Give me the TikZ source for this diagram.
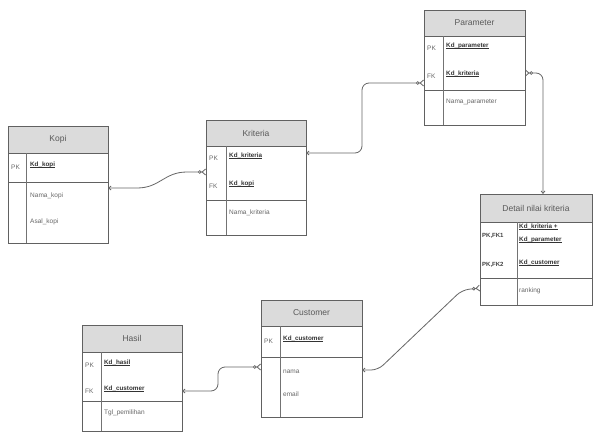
\documentclass[tikz,border=0pt]{standalone}
\usepackage{fontspec}
\setmainfont{Liberation Sans}
\usetikzlibrary{arrows.meta,calc}
\newcommand{\keyul}[1]{\underline{\smash{#1}}}
\begin{document}
\begin{tikzpicture}[x=1pt,y=-1pt,
 box/.style={draw=black!62, line width=0.6pt, anchor=north west, inner sep=0pt, outer sep=0pt},
 hdr/.style={box, fill=black!14, font=\fontsize{8.5}{10}\selectfont, text=black!65},
 row/.style={box, fill=white},
 divl/.style={draw=black!55, line width=0.5pt},
 ktext/.style={anchor=west, inner sep=0pt, font=\fontsize{6.3}{7.4}\selectfont\bfseries, text=black!80},
 atext/.style={anchor=west, inner sep=0pt, font=\fontsize{6.5}{7.6}\selectfont, text=black!60},
 ptext/.style={anchor=west, inner sep=0pt, font=\fontsize{6.5}{7.6}\selectfont, text=black!60},
 pbtext/.style={anchor=west, inner sep=0pt, font=\fontsize{6}{7}\selectfont\bfseries, text=black!75},
 conn/.style={draw=black!60, line width=0.8pt, rounded corners=7pt},
 many/.tip={Circle[open,length=3.5pt,fill=white] Straight Barb[reversed,length=3.5pt,width=6pt]},
 one/.tip={Straight Barb[length=2.5pt,width=4pt]}
]
\useasboundingbox[fill=white] (0,0) rectangle (597,439);

% ---- Kopi
\node[hdr, minimum width=100pt, minimum height=27pt] (kopiH) at (8,126) {Kopi};
\node[row, minimum width=100pt, minimum height=29pt] (kopiK) at (8,153) {};
\node[row, minimum width=100pt, minimum height=61pt] (kopiA) at (8,182) {};
\draw[divl] ($(kopiK.north west)+(18,0)$) -- ($(kopiA.south west)+(18,0)$);
\node[ptext] (kopiP1) at (11,167) {PK};
\node[ktext] (kopiT1) at (30,167) {\keyul{Kd\_kopi}};
\node[atext] (kopiT2) at (30,196) {Nama\_kopi};
\node[atext] (kopiT3) at (30,222) {Asal\_kopi};

% ---- Kriteria
\node[hdr, minimum width=100pt, minimum height=26pt] (kritH) at (206,120) {Kriteria};
\node[row, minimum width=100pt, minimum height=54pt] (kritK) at (206,146) {};
\node[row, minimum width=100pt, minimum height=35pt] (kritA) at (206,200) {};
\draw[divl] ($(kritK.north west)+(20,0)$) -- ($(kritA.south west)+(20,0)$);
\node[ptext] (kritP1) at (209,158) {PK};
\node[ktext] (kritT1) at (229,158) {\keyul{Kd\_kriteria}};
\node[ptext] (kritP2) at (209,186) {FK};
\node[ktext] (kritT2) at (229,186) {\keyul{Kd\_kopi}};
\node[atext] (kritT3) at (229,213) {Nama\_kriteria};

% ---- Parameter
\node[hdr, minimum width=101pt, minimum height=26pt] (parH) at (424,10) {Parameter};
\node[row, minimum width=101pt, minimum height=54pt] (parK) at (424,36) {};
\node[row, minimum width=101pt, minimum height=35pt] (parA) at (424,90) {};
\draw[divl] ($(parK.north west)+(19,0)$) -- ($(parA.south west)+(19,0)$);
\node[ptext] (parP1) at (427,48) {PK};
\node[ktext] (parT1) at (446,48) {\keyul{Kd\_parameter}};
\node[ptext] (parP2) at (427,76) {FK};
\node[ktext] (parT2) at (446,76) {\keyul{Kd\_kriteria}};
\node[atext] (parT3) at (446,102) {Nama\_parameter};

% ---- Detail nilai kriteria
\node[hdr, minimum width=112pt, minimum height=28pt] (detH) at (480,194) {Detail nilai kriteria};
\node[row, minimum width=112pt, minimum height=56pt] (detK) at (480,222) {};
\node[row, minimum width=112pt, minimum height=27pt] (detA) at (480,278) {};
\draw[divl] ($(detK.north west)+(37,0)$) -- ($(detA.south west)+(37,0)$);
\node[pbtext] (detP1) at (482,236) {PK,FK1};
\node[ktext] (detT1) at (519,229) {\keyul{Kd\_kriteria +}};
\node[ktext] (detT2) at (519,242) {\keyul{Kd\_parameter}};
\node[pbtext] (detP2) at (482,265) {PK,FK2};
\node[ktext] (detT3) at (519,265) {\keyul{Kd\_customer}};
\node[atext] (detT4) at (519,291) {ranking};

% ---- Customer
\node[hdr, minimum width=101pt, minimum height=26pt] (cusH) at (261,300) {Customer};
\node[row, minimum width=101pt, minimum height=31pt] (cusK) at (261,326) {};
\node[row, minimum width=101pt, minimum height=60pt] (cusA) at (261,357) {};
\draw[divl] ($(cusK.north west)+(19,0)$) -- ($(cusA.south west)+(19,0)$);
\node[ptext] (cusP1) at (264,341) {PK};
\node[ktext] (cusT1) at (283,341) {\keyul{Kd\_customer}};
\node[atext] (cusT2) at (283,372) {nama};
\node[atext] (cusT3) at (283,394) {email};

% ---- Hasil
\node[hdr, minimum width=100pt, minimum height=27pt] (hasH) at (82,325) {Hasil};
\node[row, minimum width=100pt, minimum height=49pt] (hasK) at (82,352) {};
\node[row, minimum width=100pt, minimum height=30pt] (hasA) at (82,401) {};
\draw[divl] ($(hasK.north west)+(19,0)$) -- ($(hasA.south west)+(19,0)$);
\node[ptext] (hasP1) at (85,365) {PK};
\node[ktext] (hasT1) at (104,365) {\keyul{Kd\_hasil}};
\node[ptext] (hasP2) at (85,391) {FK};
\node[ktext] (hasT2) at (104,391) {\keyul{Kd\_customer}};
\node[atext] (hasT3) at (104,413) {Tgl\_pemilihan};

% ---- Connectors
\draw[conn, {one}-{many}] ($(kopiA.north west)+(100,6)$) -- ++(22,0)
  .. controls ++(30,0) and ++(-30,0) .. ($(kritK.north west)+(-12,26)$) -- ($(kritK.north west)+(0,26)$);
\draw[conn, {one}-{many}] ($(kritK.north east)+(0,7)$) -- ++(56,0) |- ($(parK.north west)+(0,47)$);
\draw[conn, {many}-{one}] ($(parK.north east)+(0,37)$) -| ($(detH.north west)+(63,0)$);
\draw[conn, {one}-{many}] ($(cusA.north east)+(0,13)$) -- ++(16,0) -- ($(detA.north west)+(-18,12)$) -- ($(detA.north west)+(0,10)$);
\draw[conn, {one}-{many}] ($(hasK.north east)+(0,39)$) -- ++(36,0) |- ($(cusA.north west)+(0,10)$);
\end{tikzpicture}
\end{document}
